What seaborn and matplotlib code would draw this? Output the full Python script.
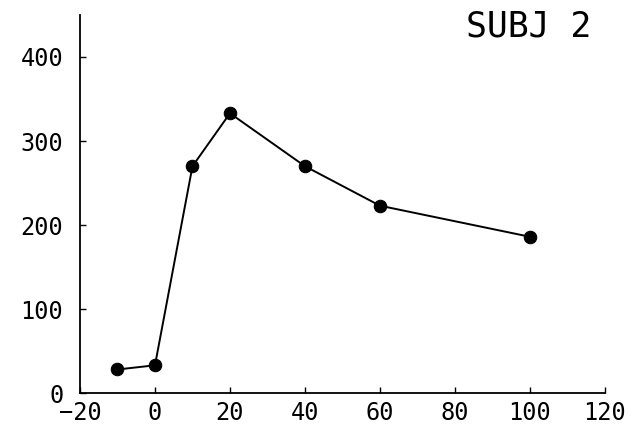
import matplotlib
matplotlib.use("Agg")
import matplotlib.pyplot as plt
import pandas as pd
import seaborn as sns

# values
minutes = [-10, 0, 10, 20, 40, 60, 100]
response = [28, 33, 270, 333, 270, 223, 186]
x_ticks = [-20, 0, 20, 40, 60, 80, 100, 120]
y_ticks = [0, 100, 200, 300, 400]

df = pd.DataFrame({"minutes": minutes, "response": response})

sns.set_style("ticks")
plt.rcParams["font.family"] = ["DejaVu Sans Mono"]

fig = plt.figure(figsize=(6.32, 4.36), dpi=100)
ax = fig.add_axes([0.1266, 0.0986, 0.957 - 0.1266, 0.9656 - 0.0986])

sns.lineplot(data=df, x="minutes", y="response", ax=ax, color="black",
             linewidth=1.4, marker="o", markersize=9, markeredgecolor="black")

ax.set_xlim(-20, 120)
ax.set_ylim(0, 450)
ax.set_xticks(x_ticks)
ax.set_yticks(y_ticks)
ax.set_xlabel("")
ax.set_ylabel("")
sns.despine(ax=ax)
for s in ["left", "bottom"]:
    ax.spines[s].set_linewidth(1.3)
    ax.spines[s].set_color("black")
ax.tick_params(direction="in", length=4, width=1, colors="black",
               labelsize=17, pad=6)
ax.tick_params(axis="y", pad=12)

fig.text(0.935, 0.94, "SUBJ 2", ha="right", va="center", fontsize=25,
         color="black")

fig.savefig("out.png", dpi=100)
